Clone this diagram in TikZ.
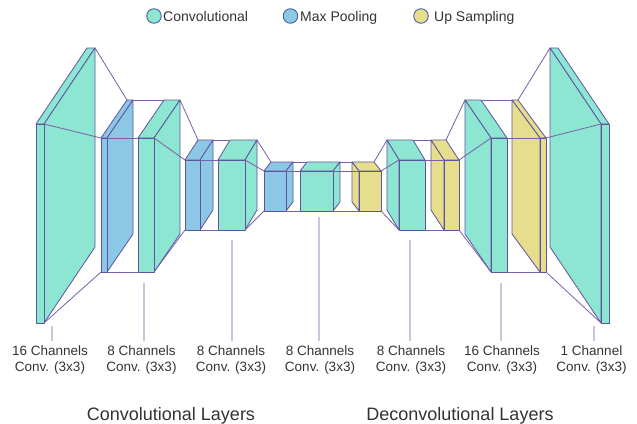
\documentclass[tikz,border=0pt]{standalone}
\usepackage{fontspec}
\setmainfont{Liberation Sans}
\definecolor{convc}{HTML}{8DE6D2}
\definecolor{poolc}{HTML}{8CC8E6}
\definecolor{upc}{HTML}{E6DE8C}
\definecolor{edgec}{HTML}{5C54A0}
\definecolor{connc}{HTML}{7A5EAA}
\definecolor{tickc}{HTML}{CCC4DE}
\definecolor{txtc}{HTML}{333333}
\definecolor{dotedge}{HTML}{4E5C9C}
% #1 name, #2 x, #3 y, #4 w, #5 h, #6 dx, #7 dy, #8 fill colour
\newcommand\drawblock[8]{%
  \coordinate (#1ftl) at (#2,#3);
  \coordinate (#1ftr) at ({#2+#4},#3);
  \coordinate (#1fbl) at (#2,{#3+#5});
  \coordinate (#1fbr) at ({#2+#4},{#3+#5});
  \coordinate (#1btl) at ({#2+(#6)},{#3+(#7)});
  \coordinate (#1btr) at ({#2+#4+(#6)},{#3+(#7)});
  \coordinate (#1bbl) at ({#2+(#6)},{#3+#5+(#7)});
  \coordinate (#1bbr) at ({#2+#4+(#6)},{#3+#5+(#7)});
  \filldraw[blockface, fill=#8] (#1ftl) -- (#1ftr) -- (#1btr) -- (#1btl) -- cycle;
  \ifdim #6pt>0pt
    \filldraw[blockface, fill=#8] (#1ftr) -- (#1btr) -- (#1bbr) -- (#1fbr) -- cycle;
  \else
    \filldraw[blockface, fill=#8] (#1ftl) -- (#1btl) -- (#1bbl) -- (#1fbl) -- cycle;
  \fi
  \filldraw[blockface, fill=#8] (#1ftl) rectangle (#1fbr);
}
\newcommand\joinblocks[2]{%
  \draw[conn] (#1ftr) -- (#2ftl);
  \draw[conn] (#1btr) -- (#2btl);
  \draw[conn] (#1fbr) -- (#2fbl);
}
\begin{document}
\begin{tikzpicture}[x=1pt,y=-1pt,
  blockface/.style={draw=edgec, line width=0.8pt, line join=round},
  conn/.style={draw=connc, line width=0.8pt, line cap=round},
  tick/.style={draw=tickc, line width=1.2pt},
  lbl/.style={font=\fontsize{13.5}{16}\selectfont, text=txtc, align=center, inner sep=0pt, anchor=north},
  ttl/.style={font=\fontsize{18}{22}\selectfont, text=txtc, inner sep=0pt, anchor=base},
  legtxt/.style={font=\fontsize{14}{16}\selectfont, text=txtc, inner sep=0pt, anchor=base west},
  legdot/.style={circle, draw=dotedge, line width=0.9pt, minimum size=14.5pt, inner sep=0pt}]
\useasboundingbox (0,0) rectangle (637,423);

% legend
\node[legdot, fill=convc] (lg1) at (154,16) {};
\node[legtxt] (lt1) at (163,21) {Convolutional};
\node[legdot, fill=poolc] (lg2) at (290.5,16) {};
\node[legtxt] (lt2) at (300,21) {Max Pooling};
\node[legdot, fill=upc] (lg3) at (421,16) {};
\node[legtxt] (lt3) at (434,21) {Up Sampling};

% blocks
\drawblock{b1}{36}{124}{8}{199}{51}{-76}{convc}
\drawblock{b2}{101}{138}{6}{134}{26}{-38}{poolc}
\drawblock{b3}{138}{138}{16}{134}{26}{-38}{convc}
\drawblock{b4}{185}{160}{15}{70}{13}{-20}{poolc}
\drawblock{b5}{218}{160}{27}{70}{12}{-20}{convc}
\drawblock{b6}{264}{171}{22}{40}{7}{-9}{poolc}
\drawblock{b7}{300}{171}{33}{40}{7}{-9}{convc}
\drawblock{b8}{359}{171}{22}{40}{-7}{-9}{upc}
\drawblock{b9}{399}{160}{26}{70}{-12}{-20}{convc}
\drawblock{b10}{444}{160}{15}{70}{-13}{-20}{upc}
\drawblock{b11}{491}{138}{16}{134}{-26}{-38}{convc}
\drawblock{b12}{540}{138}{6}{134}{-28}{-38}{upc}
\drawblock{b13}{601}{124}{8}{199}{-51}{-76}{convc}

% connectors
\joinblocks{b1}{b2}
\joinblocks{b2}{b3}
\joinblocks{b3}{b4}
\joinblocks{b4}{b5}
\joinblocks{b5}{b6}
\joinblocks{b6}{b7}
\joinblocks{b7}{b8}
\joinblocks{b8}{b9}
\joinblocks{b9}{b10}
\joinblocks{b10}{b11}
\joinblocks{b11}{b12}
\joinblocks{b12}{b13}

% labels
\node[lbl] (l1) at (50,346) {16 Channels\\Conv. (3x3)};
\node[lbl] (l2) at (141.5,346) {8 Channels\\Conv. (3x3)};
\node[lbl] (l3) at (231,346) {8 Channels\\Conv. (3x3)};
\node[lbl] (l4) at (320,346) {8 Channels\\Conv. (3x3)};
\node[lbl] (l5) at (411,346) {8 Channels\\Conv. (3x3)};
\node[lbl] (l6) at (502,346) {16 Channels\\Conv. (3x3)};
\node[lbl] (l7) at (591.5,346) {1 Channel\\Conv. (3x3)};

% tick lines
\coordinate (t1a) at (52,326);  \coordinate (t1b) at (52,341);
\coordinate (t2a) at (144,283); \coordinate (t2b) at (144,341);
\coordinate (t3a) at (232,240); \coordinate (t3b) at (232,341);
\coordinate (t4a) at (319,217); \coordinate (t4b) at (319,341);
\coordinate (t5a) at (410,240); \coordinate (t5b) at (410,341);
\coordinate (t6a) at (501,283); \coordinate (t6b) at (501,341);
\coordinate (t7a) at (594,326); \coordinate (t7b) at (594,341);
\foreach \i in {1,...,7} {\draw[tick] (t\i a) -- (t\i b);}

% titles
\node[ttl] (tc) at (171,420) {Convolutional Layers};
\node[ttl] (td) at (460,420) {Deconvolutional Layers};
\end{tikzpicture}
\end{document}
